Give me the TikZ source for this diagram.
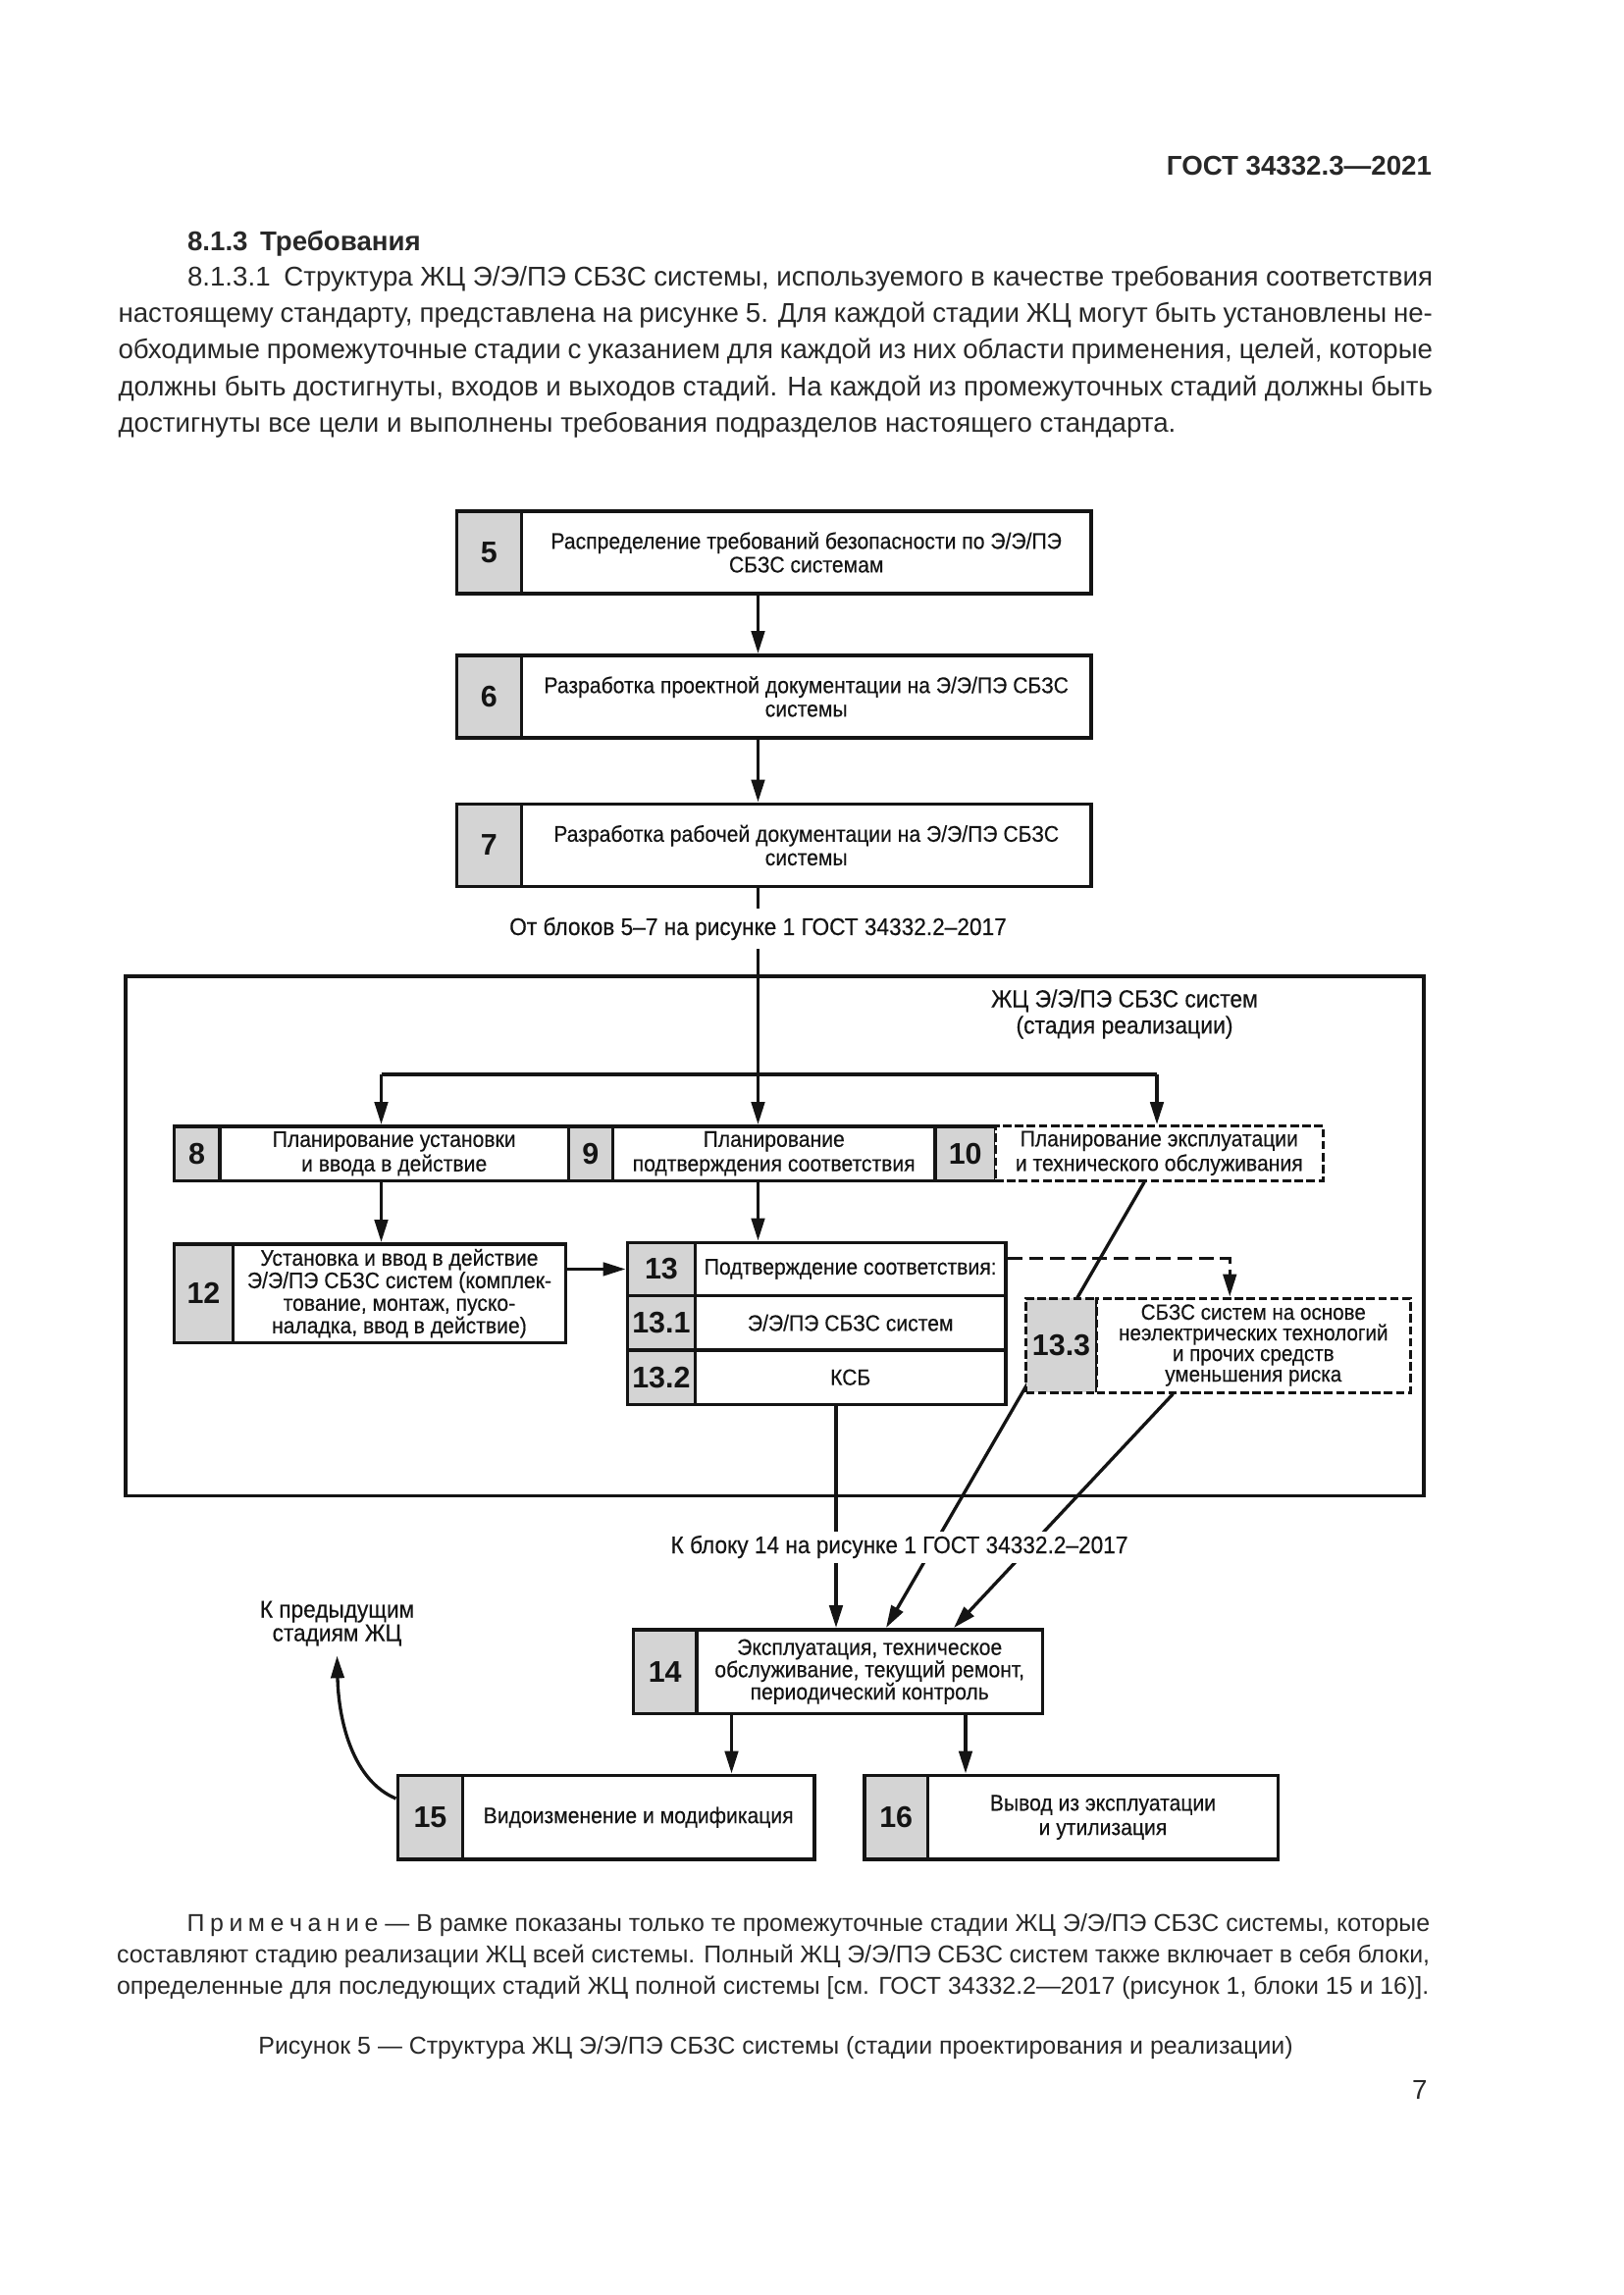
\documentclass[tikz,border=0pt]{standalone}
\usepackage{fontspec}
\setmainfont{Liberation Sans}
\newfontfamily\dfont{Liberation Sans}[FakeStretch=0.92, FakeBold=0.3]
\usetikzlibrary{arrows.meta,backgrounds}
\definecolor{cellgray}{RGB}{212,212,212}
\definecolor{ink}{RGB}{20,20,20}
\definecolor{bodyink}{RGB}{40,40,40}
\newcommand{\uu}[1]{#1*0.19052mm}
\tikzset{
  box/.style={draw=ink, line width=1.4pt, inner sep=0pt, anchor=north west, text=ink},
  numc/.style={box, fill=cellgray, font=\fontsize{11}{12}\selectfont\bfseries},
  txtc/.style={box, fill=white, align=center, font=\dfont\fontsize{8.3}{8.7}\selectfont},
  dashb/.style={line width=1.1pt, dash pattern=on 1.1mm off 0.45mm},
  conn/.style={draw=ink, line width=1.2pt},
  arr/.style={conn, -{Triangle[length=2.9mm,width=1.7mm]}},
  darr/.style={arr, dash pattern=on 1.9mm off 0.85mm},
  lab/.style={align=center, text=ink, font=\dfont\fontsize{8.9}{8.7}\selectfont},
  body/.style={text=bodyink, inner sep=0pt},
}
\begin{document}
\begin{tikzpicture}[x=0.19052mm, y=-0.19052mm]
\useasboundingbox (0,0) rectangle (1102.67,1559.33);

% ---------- page text ----------
\node[body, anchor=base east, font=\fontsize{10}{12}\selectfont\bfseries] (hdr) at (973,119) {ГОСТ 34332.3—2021};
\node[body, anchor=base west, font=\fontsize{10}{12}\selectfont\bfseries] (sec) at (127,170) {8.1.3\hspace{0.45em}Требования};
\node[body, anchor=base west, text width=\uu{893}, align=justify, font=\fontsize{10}{13.5}\selectfont] (para) at (80,194)
{\hspace*{8.95mm}8.1.3.1\hspace{0.5em}Структура ЖЦ Э/Э/ПЭ СБЗС системы, используемого в качестве требования соответствия\linebreak
настоящему стандарту, представлена на рисунке 5. Для каждой стадии ЖЦ могут быть установлены не-\linebreak
обходимые промежуточные стадии с указанием для каждой из них области применения, целей, которые\linebreak
должны быть достигнуты, входов и выходов стадий. На каждой из промежуточных стадий должны быть\linebreak
достигнуты все цели и выполнены требования подразделов настоящего стандарта.};

% ---------- upper chain 5-6-7 ----------
\node[numc, minimum width=\uu{44}, minimum height=\uu{56}] (n5) at (309,346) {5};
\node[txtc, minimum width=\uu{387}, minimum height=\uu{56}] (b5) at (353,346) {Распределение требований безопасности по Э/Э/ПЭ\\СБЗС системам};
\node[numc, minimum width=\uu{44}, minimum height=\uu{56}] (n6) at (309,444) {6};
\node[txtc, minimum width=\uu{387}, minimum height=\uu{56}] (b6) at (353,444) {Разработка проектной документации на Э/Э/ПЭ СБЗС\\системы};
\node[numc, minimum width=\uu{44}, minimum height=\uu{56}] (n7) at (309,545) {7};
\node[txtc, minimum width=\uu{387}, minimum height=\uu{56}] (b7) at (353,545) {Разработка рабочей документации на Э/Э/ПЭ СБЗС\\системы};

% ---------- frame ----------
\node[box, minimum width=\uu{882}, minimum height=\uu{353}] (frame) at (84,662) {};
\node[lab, font=\dfont\fontsize{9}{9.7}\selectfont] (ftitle) at (764,689) {ЖЦ Э/Э/ПЭ СБЗС систем\\(стадия реализации)};

% ---------- row 8 / 9 / 10 ----------
\node[numc, minimum width=\uu{31}, minimum height=\uu{37}] (n8) at (117,764) {8};
\node[txtc, minimum width=\uu{237}, minimum height=\uu{37}, font=\dfont\fontsize{8.3}{9}\selectfont] (b8) at (148,764) {Планирование установки\\и ввода в действие};
\node[numc, minimum width=\uu{30}, minimum height=\uu{37}] (n9) at (385,764) {9};
\node[txtc, minimum width=\uu{219}, minimum height=\uu{37}, font=\dfont\fontsize{8.3}{9}\selectfont] (b9) at (415,764) {Планирование\\подтверждения соответствия};
\node[numc, minimum width=\uu{41}, minimum height=\uu{37}] (n10) at (634,764) {10};
\node[txtc, dashb, minimum width=\uu{223}, minimum height=\uu{37}, font=\dfont\fontsize{8.3}{9}\selectfont] (b10) at (675,764) {Планирование эксплуатации\\и технического обслуживания};

% ---------- box 12 ----------
\node[numc, minimum width=\uu{40}, minimum height=\uu{67}] (n12) at (117,844) {12};
\node[txtc, minimum width=\uu{226}, minimum height=\uu{67}, font=\dfont\fontsize{8.3}{8.3}\selectfont] (b12) at (157,844) {Установка и ввод в действие\\Э/Э/ПЭ СБЗС систем (комплек-\\тование, монтаж, пуско-\\наладка, ввод в действие)};

% ---------- box 13 ----------
\node[numc, minimum width=\uu{46}, minimum height=\uu{36}] (n13) at (425,843) {13};
\node[txtc, minimum width=\uu{211}, minimum height=\uu{36}] (b13) at (471,843) {Подтверждение соответствия:};
\node[numc, minimum width=\uu{46}, minimum height=\uu{37}] (n131) at (425,879) {13.1};
\node[txtc, minimum width=\uu{211}, minimum height=\uu{37}] (b131) at (471,879) {Э/Э/ПЭ СБЗС систем};
\node[numc, minimum width=\uu{46}, minimum height=\uu{37}] (n132) at (425,916) {13.2};
\node[txtc, minimum width=\uu{211}, minimum height=\uu{37}] (b132) at (471,916) {КСБ};

% ---------- box 13.3 ----------
\node[numc, dashb, minimum width=\uu{48}, minimum height=\uu{64}] (n133) at (696,881) {13.3};
\node[txtc, dashb, minimum width=\uu{213}, minimum height=\uu{64}, font=\dfont\fontsize{8.1}{7.6}\selectfont] (b133) at (744,881) {СБЗС систем на основе\\неэлектрических технологий\\и прочих средств\\уменьшения риска};

% ---------- box 14, 15, 16 ----------
\node[numc, minimum width=\uu{43}, minimum height=\uu{57}] (n14) at (429,1106) {14};
\node[txtc, minimum width=\uu{235}, minimum height=\uu{57}, font=\dfont\fontsize{8.3}{8.2}\selectfont] (b14) at (472,1106) {Эксплуатация, техническое\\обслуживание, текущий ремонт,\\периодический контроль};
\node[numc, minimum width=\uu{44}, minimum height=\uu{57}] (n15) at (269,1205) {15};
\node[txtc, minimum width=\uu{239}, minimum height=\uu{57}] (b15) at (313,1205) {Видоизменение и модификация};
\node[numc, minimum width=\uu{43}, minimum height=\uu{57}] (n16) at (586,1205) {16};
\node[txtc, minimum width=\uu{238}, minimum height=\uu{57}, font=\dfont\fontsize{8.3}{9}\selectfont] (b16) at (629,1205) {Вывод из эксплуатации\\и утилизация};

% ---------- helper coordinates ----------
\coordinate (sp) at (515,0);
\coordinate (bl) at (259,730);
\coordinate (brr) at (786,730);
\coordinate (dk) at (835.5,855);
\coordinate (x780) at (777.5,0);
\coordinate (x602) at (602,0);
\coordinate (x797) at (797,0);
\coordinate (x648) at (648,0);
\coordinate (x568) at (568,0);
\coordinate (x497) at (497,0);
\coordinate (x656) at (656,0);
\coordinate (c1) at (0,1222);
\coordinate (ptip) at (229,1125);

% ---------- connectors ----------
\draw[arr] (sp |- b5.south) -- (sp |- b6.north);
\draw[arr] (sp |- b6.south) -- (sp |- b7.north);
\draw[arr] (sp |- b7.south) -- (sp |- b9.north);
\draw[conn] (bl) -- (brr);
\draw[arr] (bl) -- (bl |- b8.north);
\draw[arr] (brr) -- (brr |- b10.north);
\draw[arr] (bl |- b8.south) -- (bl |- b12.north);
\draw[arr] (sp |- b9.south) -- (sp |- b13.north);
\draw[arr] (b12.east |- n13.west) -- (n13.west);
\draw[darr] (b13.east |- dk) -- (dk) -- (dk |- b133.north);
\begin{pgfonlayer}{background}
\draw[arr] (b10.south -| x780) -- (b14.north -| x602);
\end{pgfonlayer}
\draw[arr] (b133.south -| x797) -- (b14.north -| x648);
\draw[arr] (x568 |- b132.south) -- (x568 |- b14.north);
\draw[arr] (x497 |- b14.south) -- (x497 |- b15.north);
\draw[arr] (x656 |- b14.south) -- (x656 |- b16.north);
\draw[arr] (n15.west |- c1) .. controls (240,1210) and (230,1170) .. (ptip);

% ---------- labels ----------
\node[lab, fill=white, inner xsep=2pt, inner ysep=3.2pt] (l1) at (515,631) {От блоков 5–7 на рисунке 1 ГОСТ 34332.2–2017};
\node[lab, fill=white, inner xsep=2pt, inner ysep=1.6pt] (l2) at (611,1051) {К блоку 14 на рисунке 1 ГОСТ 34332.2–2017};
\node[lab] (prev) at (229,1103) {К предыдущим\\стадиям ЖЦ};

% ---------- note and caption ----------
\node[body, anchor=base west, text width=\uu{892}, align=justify, font=\fontsize{9}{11.6}\selectfont] (note) at (79,1312.5)
{\hspace*{9.1mm}П\kern2pt р\kern2pt и\kern2pt м\kern2pt е\kern2pt ч\kern2pt а\kern2pt н\kern2pt и\kern2pt е — В рамке показаны только те промежуточные стадии ЖЦ Э/Э/ПЭ СБЗС системы, которые\linebreak
составляют стадию реализации ЖЦ всей системы. Полный ЖЦ Э/Э/ПЭ СБЗС систем также включает в себя блоки,\linebreak
определенные для последующих стадий ЖЦ полной системы [см. ГОСТ 34332.2—2017 (рисунок 1, блоки 15 и 16)].};
\node[body, anchor=base, font=\fontsize{9}{11}\selectfont] (cap) at (527,1395.5) {Рисунок 5 — Структура ЖЦ Э/Э/ПЭ СБЗС системы (стадии проектирования и реализации)};
\node[body, anchor=base east, font=\fontsize{10}{12}\selectfont] (pg) at (970,1426) {7};
\end{tikzpicture}
\end{document}
